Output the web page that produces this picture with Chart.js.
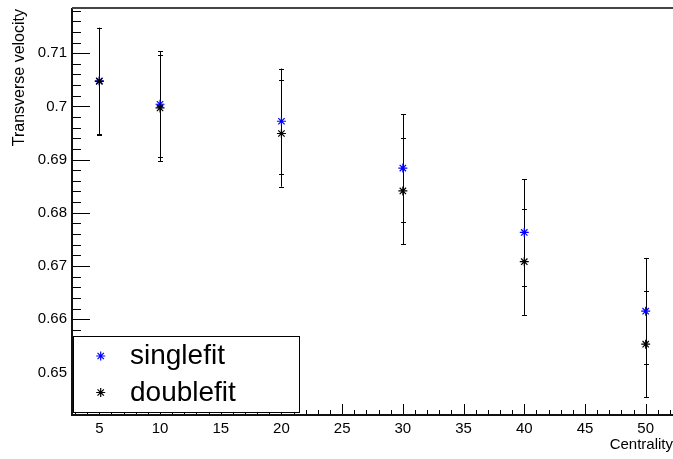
<!DOCTYPE html>
<html><head><meta charset="utf-8">
<script src="https://cdn.jsdelivr.net/npm/chart.js@4.4.1/dist/chart.umd.min.js"></script>
<style>html,body{margin:0;padding:0;background:#fff}#wrap{width:673px;height:459px}</style>
</head><body><div id="wrap"><canvas id="c" width="673" height="459"></canvas></div>
<script>
const centrality = [5, 10, 20, 30, 40, 50];
const singlefit = [0.7048, 0.7004, 0.6972, 0.6884, 0.6763, 0.6615];
const singlefitErr = [0.0100, 0.0100, 0.0099, 0.0101, 0.0100, 0.0100];
const doublefit = [0.7047, 0.6997, 0.6949, 0.6841, 0.6708, 0.6553];
const doublefitErr = [0.0100, 0.0100, 0.0100, 0.0100, 0.0100, 0.0100];
const seriesNames = ['singlefit', 'doublefit'];
const seriesColors = ['#0000ff', '#000000'];
const xTicks = [5, 10, 15, 20, 25, 30, 35, 40, 45, 50];
const yTicks = [0.65, 0.66, 0.67, 0.68, 0.69, 0.70, 0.71];
const xTitle = 'Centrality';
const yTitle = 'Transverse velocity';

const FONT = '"Liberation Sans", Arial, Helvetica, sans-serif';

function mkData(vals, errs) {
  return centrality.map((x, i) => ({ x: x, y: vals[i], err: errs[i] }));
}

function drawStar(ctx, x, y, r, color) {
  ctx.save();
  ctx.strokeStyle = color;
  ctx.lineWidth = 1.2;
  ctx.beginPath();
  const d = r * Math.SQRT1_2;
  ctx.moveTo(x - r, y); ctx.lineTo(x + r, y);
  ctx.moveTo(x, y - r); ctx.lineTo(x, y + r);
  ctx.moveTo(x - d, y - d); ctx.lineTo(x + d, y + d);
  ctx.moveTo(x - d, y + d); ctx.lineTo(x + d, y - d);
  ctx.stroke();
  ctx.restore();
}

function zeroPad(s) {
  s.paddingLeft = 0; s.paddingRight = 0; s.paddingTop = 0; s.paddingBottom = 0;
}

const rootPlugin = {
  id: 'rootFrame',
  beforeDatasetsDraw(chart) {
    const ctx = chart.ctx, xs = chart.scales.x, ys = chart.scales.y;
    ctx.save();
    ctx.strokeStyle = '#000';
    ctx.lineWidth = 1;
    chart.data.datasets.forEach(ds => {
      ds.data.forEach(p => {
        const px = Math.round(xs.getPixelForValue(p.x)) + 0.5;
        const yt = ys.getPixelForValue(p.y + p.err);
        const yb = ys.getPixelForValue(p.y - p.err);
        ctx.beginPath();
        ctx.moveTo(px, yt); ctx.lineTo(px, yb);
        ctx.moveTo(px - 2.5, Math.round(yt) + 0.5); ctx.lineTo(px + 2.5, Math.round(yt) + 0.5);
        ctx.moveTo(px - 2.5, Math.round(yb) + 0.5); ctx.lineTo(px + 2.5, Math.round(yb) + 0.5);
        ctx.stroke();
      });
    });
    ctx.restore();
  },
  afterDatasetsDraw(chart) {
    const ctx = chart.ctx, xs = chart.scales.x, ys = chart.scales.y;
    const a = chart.chartArea;
    ctx.save();
    ctx.strokeStyle = '#000';
    ctx.lineWidth = 1;
    // x ticks (inside)
    ctx.beginPath();
    for (let v = Math.ceil(xs.min); v <= xs.max; v++) {
      const px = Math.round(xs.getPixelForValue(v)) + 0.5;
      const len = (v % 5 === 0) ? 12 : 6;
      ctx.moveTo(px, a.bottom); ctx.lineTo(px, a.bottom - len);
    }
    // y ticks (inside)
    for (let k = Math.ceil(ys.min / 0.002 - 1e-6); k * 0.002 <= ys.max + 1e-9; k++) {
      const py = Math.round(ys.getPixelForValue(k * 0.002)) + 0.5;
      const len = (k % 5 === 0) ? 18 : 9;
      ctx.moveTo(a.left, py); ctx.lineTo(a.left + len, py);
    }
    ctx.stroke();
    // axis lines
    ctx.lineWidth = 2;
    ctx.strokeStyle = '#111';
    ctx.beginPath();
    ctx.moveTo(a.left, a.top - 1); ctx.lineTo(a.left, a.bottom - 1);
    ctx.lineTo(a.right, a.bottom - 1);
    ctx.stroke();
    ctx.strokeStyle = '#444';
    ctx.beginPath();
    ctx.moveTo(a.left, a.top - 1); ctx.lineTo(a.right, a.top - 1);
    ctx.stroke();

    // legend box
    const lx = 73, ly = 336, lw = 226, lh = 76;
    ctx.fillStyle = '#fff';
    ctx.fillRect(lx, ly, lw, lh);
    ctx.lineWidth = 1;
    ctx.strokeStyle = '#000';
    ctx.strokeRect(lx + 0.5, ly + 0.5, lw, lh);
    ctx.font = '28px ' + FONT;
    ctx.textAlign = 'left';
    ctx.textBaseline = 'alphabetic';
    ctx.fillStyle = '#000';
    const rowsY = [356, 392.5];
    const baseY = [363.5, 401];
    chart.data.datasets.forEach((ds, i) => {
      drawStar(ctx, 100.7, rowsY[i], 4.5, ds.pointBorderColor);
      ctx.fillStyle = '#000';
      ctx.fillText(ds.label, 130, baseY[i]);
    });
    ctx.restore();
  }
};

new Chart(document.getElementById('c'), {
  type: 'scatter',
  data: {
    datasets: [
      { label: seriesNames[0], data: mkData(singlefit, singlefitErr), order: 1,
        pointStyle: 'star', pointRadius: 4.5, pointBorderColor: seriesColors[0],
        pointBackgroundColor: seriesColors[0], pointBorderWidth: 1.2, showLine: false },
      { label: seriesNames[1], data: mkData(doublefit, doublefitErr), order: 0,
        pointStyle: 'star', pointRadius: 4.5, pointBorderColor: seriesColors[1],
        pointBackgroundColor: seriesColors[1], pointBorderWidth: 1.2, showLine: false }
    ]
  },
  options: {
    responsive: false,
    animation: false,
    events: [],
    layout: { autoPadding: false, padding: { top: 9, left: 0, right: 0, bottom: 0 } },
    plugins: { legend: { display: false }, tooltip: { enabled: false } },
    scales: {
      x: {
        type: 'linear', min: 2.75, max: 52.25,
        afterBuildTicks: s => { s.ticks = xTicks.map(v => ({ value: v })); },
        afterFit: s => { s.height = 43; zeroPad(s); },
        grid: { display: false, drawTicks: false },
        border: { display: false },
        ticks: { color: '#000', font: { family: FONT, size: 15 }, padding: 4, maxRotation: 0, autoSkip: false },
        title: { display: true, text: xTitle, align: 'end', color: '#000',
                 font: { family: FONT, size: 15 }, padding: { top: 0, bottom: 5 } }
      },
      y: {
        type: 'linear', min: 0.6418, max: 0.7183,
        afterBuildTicks: s => { s.ticks = yTicks.map(v => ({ value: v })); },
        afterFit: s => { s.width = 72; zeroPad(s); },
        grid: { display: false, drawTicks: false },
        border: { display: false },
        ticks: { color: '#000', font: { family: FONT, size: 15 }, padding: 5, autoSkip: false,
                 callback: v => String(+Number(v).toFixed(2)) },
        title: { display: true, text: yTitle, align: 'end', color: '#000',
                 font: { family: FONT, size: 16 }, padding: { top: 9.7, bottom: 0 } }
      }
    }
  },
  plugins: [rootPlugin]
});
</script>
</body></html>
